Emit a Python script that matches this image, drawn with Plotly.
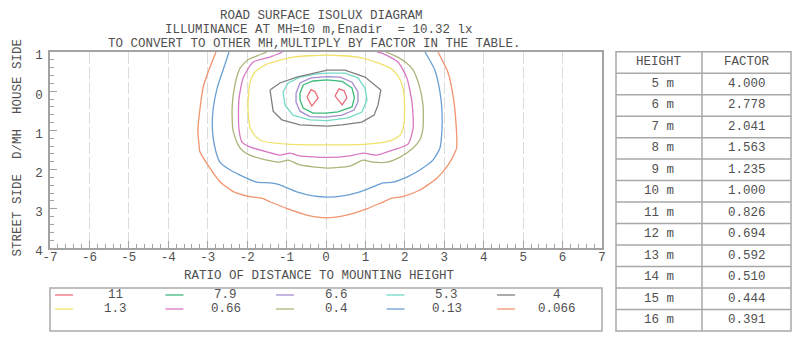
import plotly.graph_objects as go

# ---------------- data ----------------
LEVELS = ["11", "7.9", "6.6", "5.3", "4", "1.3", "0.66", "0.4", "0.13", "0.066"]
COLORS = ["#ec6f7d", "#3dba7c", "#a58bd0", "#74d9c6", "#7f7f7f",
          "#f1e16a", "#d877c3", "#adb47a", "#6a9fd4", "#f2946f"]

iso_11_x = [-0.48, -0.38, -0.28, -0.20, -0.36, -0.48, None, 0.23, 0.33, 0.46, 0.53, 0.41, 0.23]
iso_11_y = [0.15, -0.04, 0.01, 0.17, 0.38, 0.15, None, 0.12, -0.06, -0.01, 0.17, 0.35, 0.12]

iso_7_9_x = [-0.66, -0.58, -0.33, 0.03, 0.41, 0.66, 0.72, 0.66, 0.30, 0.0, -0.33, -0.58, -0.66, -0.66]
iso_7_9_y = [0.05, -0.16, -0.26, -0.29, -0.25, -0.08, 0.17, 0.40, 0.53, 0.56, 0.56, 0.43, 0.22, 0.05]

iso_6_6_x = [-0.76, -0.66, -0.38, 0.03, 0.36, 0.66, 0.81, 0.81, 0.71, 0.41, 0.0, -0.41, -0.66, -0.76, -0.76]
iso_6_6_y = [0.05, -0.21, -0.34, -0.37, -0.36, -0.23, 0.02, 0.28, 0.48, 0.61, 0.66, 0.65, 0.51, 0.28, 0.05]

iso_5_3_x = [-1.09, -0.96, -0.66, -0.23, 0.03, 0.48, 0.81, 0.99, 1.04, 0.91, 0.56, 0.03, -0.41, -0.84, -1.04, -1.09]
iso_5_3_y = [0.02, -0.21, -0.36, -0.44, -0.46, -0.46, -0.34, -0.08, 0.22, 0.53, 0.68, 0.75, 0.73, 0.61, 0.35, 0.02]

iso_4_x = [-1.42, -1.17, -0.74, -0.23, 0.03, 0.48, 0.99, 1.39, 1.32, 1.22, 0.91, 0.41, 0.03, -0.66, -1.12, -1.34, -1.42]
iso_4_y = [-0.03, -0.21, -0.36, -0.49, -0.54, -0.54, -0.36, -0.03, 0.35, 0.61, 0.79, 0.86, 0.89, 0.86, 0.73, 0.51, -0.03]

iso_1_3_x = [0.03, -0.84, -1.50, -1.80, -1.93, -1.98, -1.93, -1.80, -1.62, -0.99, 0.03, 1.04, 1.62, 1.88,
             1.98, 1.98, 1.88, 1.70, 1.32, 0.81, 0.03]
iso_1_3_y = [-0.92, -0.87, -0.69, -0.49, -0.21, 0.40, 0.91, 1.14, 1.27, 1.35, 1.37, 1.35, 1.27, 1.12,
             0.81, 0.10, -0.29, -0.54, -0.72, -0.87, -0.92]

iso_0_66_x = [-1.10, -1.42, -1.85, -2.10, -2.21, -2.21, -2.13, -1.93, -1.50, -1.17, -0.91, -0.66, 0.03, 0.61,
              0.94, 1.29, 1.70, 2.08, 2.21, 2.18, 2.05, 1.83, 1.45, 1.30]
iso_0_66_y = [-1.0, -0.87, -0.74, -0.34, 0.22, 0.94, 1.30, 1.42, 1.55, 1.63, 1.58, 1.65, 1.69, 1.65,
              1.58, 1.63, 1.50, 1.35, 0.94, 0.28, -0.34, -0.74, -0.96, -1.0]

iso_0_4_x = [-1.50, -1.75, -1.98, -2.18, -2.31, -2.38, -2.36, -2.23, -2.10, -1.93, -1.50, -1.17, -0.96, -0.66,
             0.03, 0.61, 0.94, 1.19, 1.55, 1.88, 2.21, 2.38, 2.46, 2.46, 2.36, 2.21, 2.02, 1.75, 1.52]
iso_0_4_y = [-1.0, -0.90, -0.80, -0.59, -0.16, 0.40, 0.99, 1.37, 1.53, 1.63, 1.76, 1.81, 1.76, 1.88,
             1.96, 1.91, 1.76, 1.81, 1.81, 1.68, 1.45, 1.24, 0.94, 0.35, -0.16, -0.54, -0.74, -0.90, -1.0]

iso_0_13_x = [-2.46, -2.61, -2.76, -2.87, -2.87, -2.79, -2.69, -2.51, -2.18, -1.75, -1.42, -1.17, -0.74, -0.33,
              0.03, 0.43, 0.86, 1.19, 1.45, 1.70, 2.05, 2.38, 2.71, 2.89, 2.94, 2.94, 2.89, 2.76, 2.51]
iso_0_13_y = [-1.0, -0.54, -0.08, 0.53, 1.12, 1.55, 1.81, 1.96, 2.14, 2.32, 2.34, 2.39, 2.57, 2.67,
              2.70, 2.67, 2.57, 2.44, 2.34, 2.32, 2.19, 2.01, 1.76, 1.45, 0.99, 0.48, 0.02, -0.54, -1.0]

iso_0_066_x = [-2.79, -2.99, -3.12, -3.20, -3.25, -3.22, -3.20, -2.94, -2.69, -2.35, -1.93, -1.63, -1.42, -1.00,
               -0.49, 0.02, 0.52, 1.03, 1.37, 1.67, 1.95, 2.38, 2.81, 3.10, 3.31, 3.30, 3.22, 3.09, 2.84]
iso_0_066_y = [-1.0, -0.49, -0.08, 0.48, 0.99, 1.37, 1.54, 1.97, 2.31, 2.56, 2.69, 2.73, 2.82, 2.99,
               3.16, 3.23, 3.16, 3.00, 2.86, 2.73, 2.69, 2.52, 2.22, 1.88, 1.46, 0.86, 0.10, -0.49, -1.0]

X_TICKS = [-7, -6, -5, -4, -3, -2, -1, 0, 1, 2, 3, 4, 5, 6, 7]
X_TICKTEXT = ["-7", "-6", "-5", "-4", "-3", "-2", "-1", "0", "1", "2", "3", "4", "5", "6", "7"]
Y_TICKS = [-1, 0, 1, 2, 3, 4]
Y_TICKTEXT = ["1", "0", "1", "2", "3", "4"]
Y_GRID = [-1, -0.5, 0, 0.5, 1, 1.5, 2, 2.5, 3, 3.5, 4]

TABLE_HEADER = ["HEIGHT", "FACTOR"]
HEIGHTS_M = [5, 6, 7, 8, 9, 10, 11, 12, 13, 14, 15, 16]
FACTORS = ["4.000", "2.778", "2.041", "1.563", "1.235", "1.000", "0.826", "0.694", "0.592", "0.510",
           "0.444", "0.391"]

TITLE_LINES = ["ROAD SURFACE ISOLUX DIAGRAM",
               "ILLUMINANCE AT MH=10 m,Enadir\u00a0\u00a0= 10.32 lx",
               "TO CONVERT TO OTHER MH,MULTIPLY BY FACTOR IN THE TABLE."]
X_TITLE = "RATIO OF DISTANCE TO MOUNTING HEIGHT"
Y_TITLE = "STREET SIDE\u00a0\u00a0D/MH\u00a0\u00a0HOUSE SIDE"

CONTOURS = [
    (iso_11_x, iso_11_y), (iso_7_9_x, iso_7_9_y), (iso_6_6_x, iso_6_6_y), (iso_5_3_x, iso_5_3_y),
    (iso_4_x, iso_4_y), (iso_1_3_x, iso_1_3_y), (iso_0_66_x, iso_0_66_y), (iso_0_4_x, iso_0_4_y),
    (iso_0_13_x, iso_0_13_y), (iso_0_066_x, iso_0_066_y),
]

# ---------------- layout geometry (pixels) ----------------
W, H = 800, 340
ML, MR, MT, MB = 50, 9, 52, 8
PW, PH = W - ML - MR, H - MT - MB
FONT = "Liberation Mono, Courier New, monospace"
FS = 12.5
TXT = "#505050"
AXC = "#a3a3a3"
GRIDC = "#dcdcdc"
TLINE = "#a8a8a8"


def px(xp):
    return (xp - ML) / PW


def py(yp):
    return (H - MB - yp) / PH


def txt_ann(text, xp, yp, anchor="center", angle=0):
    return dict(text=text, x=px(xp), y=py(yp), xref="paper", yref="paper",
                xanchor=anchor, yanchor="middle", showarrow=False, textangle=angle,
                font=dict(family=FONT, size=FS, color=TXT))


fig = go.Figure()

for i, (xs, ys) in enumerate(CONTOURS):
    smooth = i >= 5
    fig.add_trace(go.Scatter(
        x=xs, y=ys, mode="lines", name=LEVELS[i], showlegend=False, hoverinfo="skip",
        line=dict(color=COLORS[i], width=1.3,
                  shape="spline" if smooth else "linear", smoothing=0.6 if smooth else None),
        xaxis="x", yaxis="y"))

x_right = px(602)
y_bottom = py(248)

annotations = []
shapes = []

# titles
for t, xl, yc in zip(TITLE_LINES, [218, 163, 106], [16, 30, 44]):
    annotations.append(txt_ann(t, xl, yc, anchor="left"))
annotations.append(txt_ann(X_TITLE, 182, 276, anchor="left"))
annotations.append(txt_ann(Y_TITLE, 17.5, 148, angle=-90))

# legend box
shapes.append(dict(type="rect", xref="paper", yref="paper", x0=0, x1=x_right, y0=py(331), y1=py(288),
                   line=dict(color="#aaaaaa", width=1.5), fillcolor="rgba(0,0,0,0)", layer="above"))
for i, lev in enumerate(LEVELS):
    col, row = i % 5, i // 5
    x0 = 55 + 110.5 * col
    yc = 295 + 14 * row
    shapes.append(dict(type="line", xref="paper", yref="paper", x0=px(x0), x1=px(x0 + 18),
                       y0=py(yc), y1=py(yc), line=dict(color=COLORS[i], width=1.3)))
    annotations.append(txt_ann(lev, x0 + 60, yc))

# factor table
T_L, T_M, T_R, T_TOP, T_BOT = 616, 702, 791, 51.7, 331
n_rows = len(HEIGHTS_M) + 1
row_h = (T_BOT - T_TOP) / n_rows
shapes.append(dict(type="rect", xref="paper", yref="paper", x0=px(T_L), x1=px(T_R),
                   y0=py(T_BOT), y1=py(T_TOP), line=dict(color=TLINE, width=1.5)))
shapes.append(dict(type="line", xref="paper", yref="paper", x0=px(T_M), x1=px(T_M),
                   y0=py(T_BOT), y1=py(T_TOP), line=dict(color=TLINE, width=1.5)))
for r in range(1, n_rows):
    yl = T_TOP + r * row_h
    shapes.append(dict(type="line", xref="paper", yref="paper", x0=px(T_L), x1=px(T_R),
                       y0=py(yl), y1=py(yl), line=dict(color=TLINE, width=1.5)))
c1, c2 = (T_L + T_M) / 2, (T_M + T_R) / 2
annotations.append(txt_ann(TABLE_HEADER[0], c1, T_TOP + row_h / 2))
annotations.append(txt_ann(TABLE_HEADER[1], c2, T_TOP + row_h / 2))
for r, (hm, fac) in enumerate(zip(HEIGHTS_M, FACTORS)):
    yc = T_TOP + (r + 1.5) * row_h
    annotations.append(txt_ann(f"{hm:>2d} m".replace(" ", "\u00a0"), c1, yc))
    annotations.append(txt_ann(fac, c2, yc))

fig.update_layout(
    width=W, height=H, autosize=False,
    margin=dict(l=ML, r=MR, t=MT, b=MB, pad=0, autoexpand=False),
    paper_bgcolor="white", plot_bgcolor="white",
    showlegend=False,
    xaxis=dict(domain=[0, x_right], range=[-7, 7], tickmode="array", tickvals=X_TICKS,
               ticktext=X_TICKTEXT, ticks="inside", ticklen=7, tickcolor=AXC, tickwidth=1,
               showline=True, linecolor=AXC, linewidth=1.5, mirror=True,
               showgrid=True, gridcolor=GRIDC, griddash="12px,3px", gridwidth=1,
               zeroline=False, tickfont=dict(family=FONT, size=FS, color=TXT),
               ticklabelstandoff=-4,
               minor=dict(dtick=0.2, ticks="inside", ticklen=4, tickcolor=AXC, showgrid=False),
               anchor="y", fixedrange=True, automargin=False),
    yaxis=dict(domain=[y_bottom, 1], range=[4, -1], tickmode="array", tickvals=Y_TICKS,
               ticktext=Y_TICKTEXT, ticks="inside", ticklen=7, tickcolor=AXC, tickwidth=1,
               showline=True, linecolor=AXC, linewidth=1.5, mirror=True,
               showgrid=False, zeroline=False, ticklabelstandoff=3, ticklabelshift=-3,
               tickfont=dict(family=FONT, size=FS, color=TXT),
               minor=dict(dtick=0.2, ticks="inside", ticklen=4, tickcolor=AXC, showgrid=False),
               anchor="x", fixedrange=True, automargin=False),
    yaxis2=dict(overlaying="y", matches="y", range=[4, -1], anchor="x", tickmode="array",
                tickvals=Y_GRID, showticklabels=False, ticks="", showline=False, zeroline=False,
                showgrid=True, gridcolor=GRIDC, griddash="12px,3px", gridwidth=1, fixedrange=True,
                automargin=False),
    annotations=annotations,
    shapes=shapes,
)

fig.write_html("out.html")
